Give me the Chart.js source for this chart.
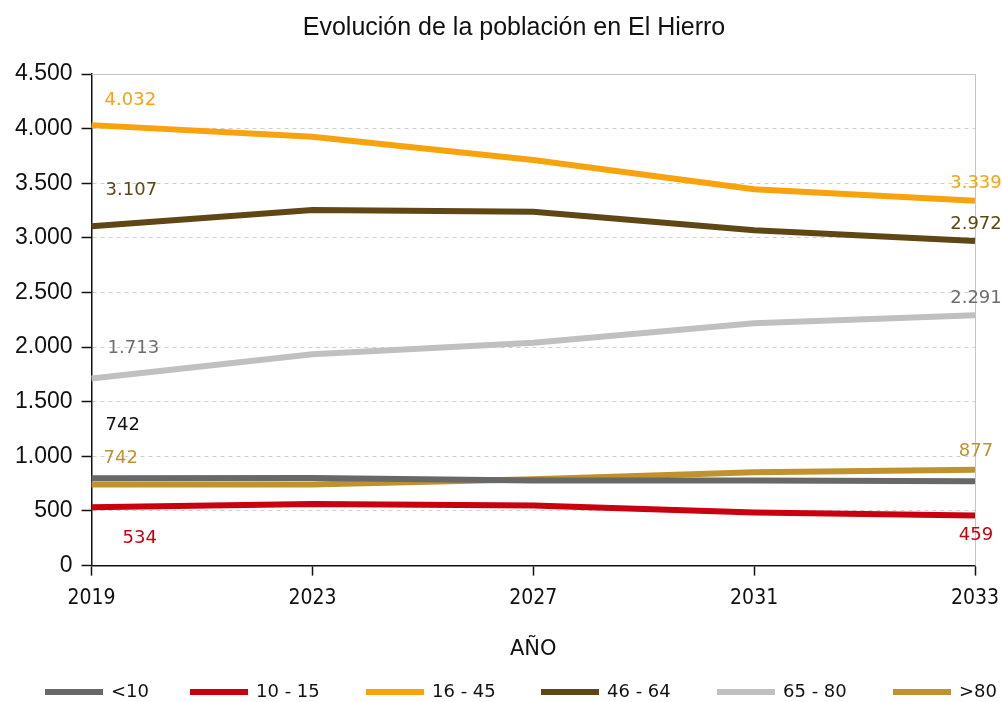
<!DOCTYPE html>
<html>
<head>
<meta charset="utf-8">
<script src="https://cdn.jsdelivr.net/npm/chart.js@4/dist/chart.umd.min.js"></script>
<style>
html,body{margin:0;padding:0;background:#fff;}
#wrap{width:1002px;height:702px;position:relative;}
</style>
</head>
<body>
<div id="wrap"><canvas id="c" width="1002" height="702"></canvas></div>
<script>
const titleText = 'Evolución de la población en El Hierro';
const years = ['2019', '2023', '2027', '2031', '2033'];
const seriesNames = ['<10', '10 - 15', '16 - 45', '46 - 64', '65 - 80', '>80'];
const under10 = [800, 803, 779, 780, 773];
const age10to15 = [534, 565, 550, 486, 459];
const age16to45 = [4032, 3925, 3712, 3446, 3339];
const age46to64 = [3107, 3254, 3238, 3070, 2972];
const age65to80 = [1713, 1934, 2041, 2218, 2291];
const over80 = [742, 742, 791, 855, 877];
const startLabels = ['742', '534', '4.032', '3.107', '1.713', '742'];
const endLabels = ['', '459', '3.339', '2.972', '2.291', '877'];
const yTicks = [0, 500, 1000, 1500, 2000, 2500, 3000, 3500, 4000, 4500];

const colors = ['#686868', '#C8000F', '#F7A30E', '#5E4715', '#C0C0C0', '#C0922E'];
const labelColors = ['#111111', '#C8000F', '#F7A30E', '#5E4715', '#6E6E6E', '#C0922E'];
// label placement (style only)
const startOffsets = [[14, -53], [31, 31], [13, -25], [14, -36], [16, -30], [12, -26]];
const endOffsets = [[0, 0], [1, 20], [1, -18], [1, -17], [1, -17], [1, -18]];
const legendX = [45, 190, 366, 541, 717, 893];

const allSeries = [under10, age10to15, age16to45, age46to64, age65to80, over80];

function fmt(v) {
  return String(v).replace(/\B(?=(\d{3})+(?!\d))/g, '.');
}

const decor = {
  id: 'decor',
  beforeDatasetsDraw(chart) {
    const {ctx, chartArea: a} = chart;
    ctx.save();
    ctx.strokeStyle = '#C4C4C4';
    ctx.lineWidth = 1;
    ctx.beginPath();
    ctx.moveTo(a.left, a.top + 0.5);
    ctx.lineTo(a.right + 0.5, a.top + 0.5);
    ctx.lineTo(a.right + 0.5, a.bottom);
    ctx.stroke();
    ctx.restore();
  },
  afterDraw(chart) {
    const {ctx} = chart;
    const xs = chart.scales.x, ys = chart.scales.y;
    ctx.save();
    // title
    ctx.font = '25px "Liberation Sans", Arial, sans-serif';
    ctx.fillStyle = '#111';
    ctx.textAlign = 'center';
    ctx.textBaseline = 'middle';
    ctx.fillText(titleText, 514, 28);

    ctx.font = '18px "DejaVu Sans", Verdana, sans-serif';
    const n = years.length;
    chart.data.datasets.forEach((ds, i) => {
      if (startLabels[i]) {
        ctx.fillStyle = labelColors[i];
        ctx.textAlign = 'left';
        ctx.fillText(startLabels[i], xs.getPixelForValue(0) + startOffsets[i][0], ys.getPixelForValue(ds.data[0]) + startOffsets[i][1]);
      }
      if (endLabels[i]) {
        ctx.fillStyle = labelColors[i];
        ctx.textAlign = 'center';
        ctx.fillText(endLabels[i], xs.getPixelForValue(n - 1) + endOffsets[i][0], ys.getPixelForValue(ds.data[n - 1]) + endOffsets[i][1]);
      }
    });
    // custom legend
    const ly = 692;
    chart.data.datasets.forEach((ds, i) => {
      const x0 = legendX[i];
      ctx.fillStyle = ds.borderColor;
      ctx.fillRect(x0, ly - 3, 58, 6);
      ctx.fillStyle = '#111';
      ctx.textAlign = 'left';
      ctx.fillText(ds.label, x0 + 66, ly);
    });
    ctx.restore();
  }
};

new Chart(document.getElementById('c'), {
  type: 'line',
  data: {
    labels: years,
    datasets: allSeries.map((d, i) => ({
      label: seriesNames[i],
      data: d,
      borderColor: colors[i],
      backgroundColor: colors[i],
      borderWidth: 6,
      pointRadius: 0,
      pointHoverRadius: 0,
      tension: 0,
      fill: false
    }))
  },
  options: {
    responsive: false,
    animation: false,
    events: [],
    layout: {padding: {left: 6, right: 27, top: 74, bottom: 40}},
    plugins: {
      legend: {display: false},
      tooltip: {enabled: false},
      title: {display: false}
    },
    scales: {
      x: {
        type: 'category',
        offset: false,
        afterFit(scale) { scale.paddingRight = 0; scale.paddingLeft = 0; },
        grid: {display: true, drawOnChartArea: false, drawTicks: true, tickLength: 10, tickColor: '#111', tickWidth: 1.5},
        border: {display: true, color: '#111', width: 1.5},
        ticks: {
          color: '#111',
          padding: 10,
          maxRotation: 0,
          font: {family: '"DejaVu Sans Condensed", "Liberation Sans Narrow", sans-serif', size: 21}
        },
        title: {
          display: true,
          text: 'AÑO',
          color: '#111',
          font: {family: '"DejaVu Sans", sans-serif', size: 21},
          padding: {top: 16, bottom: 0}
        }
      },
      y: {
        min: 0,
        max: 4500,
        afterBuildTicks(scale) { scale.ticks = yTicks.map(v => ({value: v})); },
        grid: {color: '#CFCFCF', lineWidth: 1, drawTicks: true, tickLength: 10, tickColor: '#111', tickWidth: 1.5},
        border: {display: true, color: '#111', width: 1.5, dash: [4, 4]},
        ticks: {
          color: '#111',
          padding: 9,
          font: {family: '"Liberation Sans", Arial, sans-serif', size: 23},
          callback: v => fmt(v)
        }
      }
    }
  },
  plugins: [decor]
});
</script>
</body>
</html>
